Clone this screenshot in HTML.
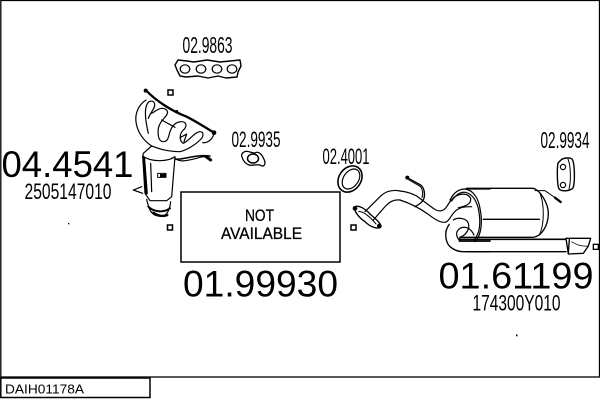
<!DOCTYPE html>
<html><head><meta charset="utf-8"><style>
html,body{margin:0;padding:0;background:#fff}
svg{display:block}
text{font-family:"Liberation Sans",sans-serif;fill:#000}
</style></head><body>
<svg width="600" height="400" viewBox="0 0 600 400" xmlns="http://www.w3.org/2000/svg">
<rect width="600" height="400" fill="#fff"/>
<path d="M0.8 377V0.5H599.500V377" fill="none" stroke="#000" stroke-width="1.3"/>
<path d="M0 377H600" stroke="#222" stroke-width="1.5"/>
<rect x="0.8" y="378" width="149.200" height="19.500" fill="#fff" stroke="#000" stroke-width="1.5"/>
<text x="5" y="393.500" font-size="13" textLength="79" lengthAdjust="spacingAndGlyphs">DAIH01178A</text>

<text x="182.500" y="53" font-size="23" textLength="50" lengthAdjust="spacingAndGlyphs">02.9863</text>
<text x="231.500" y="147" font-size="22" textLength="49" lengthAdjust="spacingAndGlyphs">02.9935</text>
<text x="322.500" y="164" font-size="22" textLength="47" lengthAdjust="spacingAndGlyphs">02.4001</text>
<text x="540.500" y="148" font-size="23" textLength="49" lengthAdjust="spacingAndGlyphs">02.9934</text>
<text x="1.500" y="177" font-size="37" textLength="132" lengthAdjust="spacingAndGlyphs">04.4541</text>
<text x="24.500" y="199" font-size="22.500" textLength="87" lengthAdjust="spacingAndGlyphs">2505147010</text>
<text x="183" y="296.500" font-size="37" textLength="155" lengthAdjust="spacingAndGlyphs">01.99930</text>
<text x="438.500" y="288.500" font-size="37" textLength="155" lengthAdjust="spacingAndGlyphs">01.61199</text>
<text x="472.500" y="310.500" font-size="22.500" textLength="88" lengthAdjust="spacingAndGlyphs">174300Y010</text>

<rect x="181" y="192" width="159" height="70" fill="#fff" stroke="#000" stroke-width="1.5"/>
<text x="245" y="221" font-size="16.500" stroke="#000" stroke-width="0.3" textLength="29" lengthAdjust="spacingAndGlyphs">NOT</text>
<text x="221" y="239" font-size="16.500" stroke="#000" stroke-width="0.3" textLength="81" lengthAdjust="spacingAndGlyphs">AVAILABLE</text>

<g fill="none" stroke="#000" stroke-width="1.2" stroke-linecap="round" stroke-linejoin="round">
<!-- gasket 02.9863 -->
<path d="M178 60L187 61L194 62L207 60L220 62L230 61L240 60L241 66L238 72L237 77L226 78L218 76L208 78L198 76L186 77L180 76L177 70L175 65Z" stroke-width="1.4"/>
<ellipse cx="185" cy="69" rx="4.800" ry="4.200"/><ellipse cx="201" cy="69" rx="4.800" ry="4.200"/><ellipse cx="217" cy="69" rx="4.800" ry="4.200"/><ellipse cx="232" cy="69" rx="4.800" ry="4.200"/>
<!-- small squares -->
<rect x="168" y="90" width="5" height="5" stroke-width="1.5" stroke-linejoin="miter"/>
<rect x="167.500" y="225" width="5" height="5" stroke-width="1.5" stroke-linejoin="miter"/>
<rect x="351" y="225" width="5" height="5" stroke-width="1.500" stroke-linejoin="miter"/>

<!-- manifold -->
<g transform="translate(130 80) scale(.33333)" stroke-width="3.600">
<path d="M47 30C80 65 130 95 170 110C200 125 230 145 252 158" stroke-width="7"/>
<circle cx="47" cy="32" r="6" fill="#000" stroke="none"/><circle cx="140" cy="95" r="5" fill="#000" stroke="none"/><circle cx="252" cy="158" r="7" fill="#000" stroke="none"/>
<path d="M48 60C25 75 15 100 18 125C22 160 45 185 65 198"/>
<path d="M55 160C48 130 42 95 50 75C55 62 70 58 74 72C76 85 62 95 55 115"/>
<path d="M65 100C75 95 85 85 95 85C110 85 118 95 108 108C100 118 90 125 85 145C83 165 85 185 100 185C115 185 115 170 120 155C125 140 135 125 155 125C170 125 172 140 160 150C145 165 150 185 160 190C180 180 195 155 210 155C222 155 222 170 210 180C195 195 170 210 150 215C110 215 85 205 65 198"/>
<path d="M95 120L135 142"/>
<path d="M152 172L170 162L162 185"/>
<path d="M252 158C250 175 235 190 218 188"/>
<path d="M65 198L40 220L38 232L50 240"/>
<path d="M125 235C150 245 190 222 240 228" stroke-width="4.500"/>
</g>

<!-- catalyst -->
<g transform="translate(130 130) scale(.33333)" stroke-width="3.600">
<path d="M38 78C65 98 115 95 135 80L125 200L110 212H60L45 190Z" fill="#fff"/>
<path d="M42 85L50 190" stroke-width="7"/>
<path d="M62 100L65 185" stroke-width="3.600"/>
<path d="M38 190L10 180L35 170"/>
<path d="M50 208C55 230 60 255 85 258C105 262 118 250 122 215"/>
<path d="M55 230C70 245 100 250 120 235" stroke-width="6"/>
<path d="M70 248C85 258 100 260 112 255" stroke-width="7"/>
<rect x="83" y="130" width="25" height="12" stroke-width="3"/>
<rect x="90" y="132" width="18" height="9" fill="#000" stroke="none"/>
<path d="M135 85C150 98 170 92 200 85C215 80 225 78 240 85" stroke-width="3.600"/>
<path d="M228 80L242 90" stroke-width="9"/>
</g>

<!-- gasket 02.9935 -->
<path d="M244 152C247 150 251 153 255 153C258 151 262 153 265 162C265 166 263 167 260 165C257 164 252 166 249 165C246 164 243 161 242 157C241 155 242 153 244 152Z" stroke-width="1.300"/>
<ellipse cx="253" cy="158.500" rx="5.500" ry="4.500" stroke-width="1.500"/>

<!-- ring 02.4001 -->
<ellipse cx="350" cy="179" rx="11" ry="14" transform="rotate(35 350 179)" stroke-width="1.600"/>
<ellipse cx="351" cy="179" rx="7.500" ry="11" transform="rotate(35 351 179)" stroke-width="1.200"/>

<!-- front pipe -->
<g transform="translate(320 140) scale(.33333)" stroke-width="3.600">
<path d="M105 200C115 195 135 205 150 222C165 235 185 250 182 262C170 268 150 260 135 245C120 235 100 215 105 200Z" stroke-width="4"/>
<path d="M116 214C130 214 150 230 168 252" stroke-width="3"/>
<circle cx="105" cy="205" r="7" fill="#000" stroke="none"/><circle cx="178" cy="258" r="7" fill="#000" stroke="none"/>
<path d="M135 215L180 170C195 155 215 148 240 153"/>
<path d="M160 240L195 200C210 182 225 178 240 180"/>
</g>

<!-- pipe join / muffler left -->
<g transform="translate(400 165) scale(.33333)" stroke-width="3.600">
<path d="M0 78C20 80 35 85 50 93L100 130C115 142 130 140 140 125C150 108 158 98 170 92C185 85 205 85 212 100C215 120 190 125 175 128"/>
<path d="M0 105C30 115 60 130 85 148C100 160 125 178 140 170C150 165 155 145 170 135C185 125 200 125 215 125"/>
<path d="M150 105C160 85 175 72 195 72H270" stroke-width="4"/>
<path d="M195 72C220 75 235 100 240 130C248 170 245 210 225 230"/>
<path d="M155 108C165 92 180 80 195 82C215 85 228 105 235 130C243 170 240 205 222 225"/>
<path d="M148 178C130 200 135 240 160 252C170 258 180 260 190 260H270" stroke-width="4"/>
<path d="M180 228C168 215 165 200 180 190C200 180 215 195 222 210"/>
<path d="M160 165C175 155 200 160 205 175C210 190 200 205 190 212C180 215 176 220 180 228"/>
<path d="M178 228H270" stroke-width="5"/>
<path d="M22 38L62 60C72 68 76 85 72 100C68 112 55 120 45 125" stroke-width="4"/>
<path d="M26 44L62 65C68 75 70 85 66 98" stroke-width="3"/>
<circle cx="22" cy="38" r="6" fill="#000" stroke="none"/>
</g>

<!-- muffler -->
<g transform="translate(440 150) scale(.33333)" stroke-width="3.600">
<path d="M80 115H280C300 120 325 160 325 190C325 225 305 262 275 262H60" stroke-width="4"/>
<path d="M300 130C312 160 315 220 298 255" stroke-width="3"/>
<path d="M130 208H298" stroke-width="4"/>
<path d="M285 122L315 122L355 150" stroke-width="3"/>
<path d="M345 143L362 156" stroke-width="7"/>
<path d="M60 268H378" stroke-width="5"/>
<path d="M80 305H378" stroke-width="4"/>
<path d="M378 265H452L445 288L430 310L385 312Z" fill="#fff" stroke-width="4"/>
<path d="M388 268L385 310" stroke-width="4"/>
<path d="M395 275C410 285 425 290 445 288" stroke-width="2"/>
<rect x="460" y="283" width="15" height="15" stroke-width="4" stroke-linejoin="miter"/>
</g>

<!-- hanger 02.9934 -->
<path d="M561 160C563 158 570 157 572 159C575 163 575 183 573 188C570 191 562 192 559 189C557 185 557 168 558 163Z" stroke-width="1.400"/>
<path d="M568 159C571 166 571 182 569 189" stroke-width="1"/>
<circle cx="563" cy="167" r="2.600"/>
<circle cx="563" cy="185" r="2.600"/>
</g>
<rect x="68" y="223" width="1.300" height="1.300" fill="#000"/>
<rect x="516" y="334.500" width="1.500" height="1.800" fill="#000"/>
</svg>
</body></html>
